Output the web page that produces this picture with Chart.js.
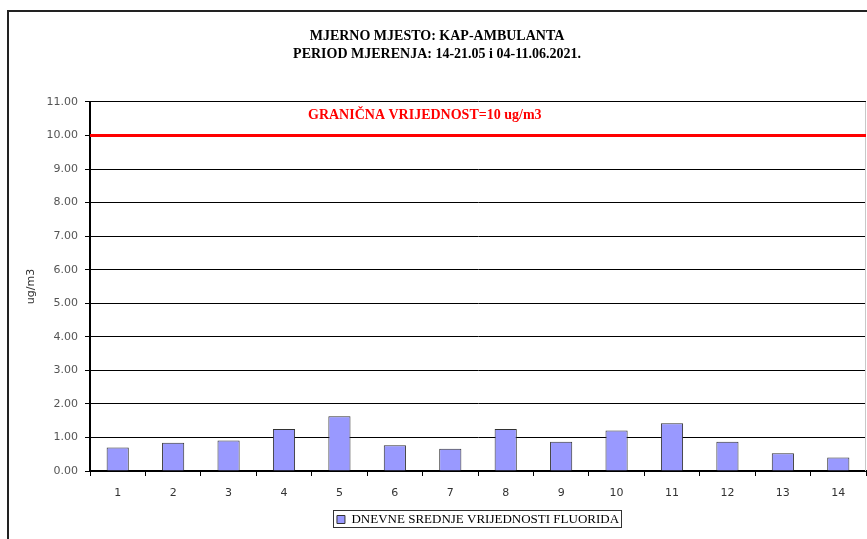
<!DOCTYPE html>
<html>
<head>
<meta charset="utf-8">
<script src="https://cdn.jsdelivr.net/npm/chart.js@4/dist/chart.umd.min.js"></script>
<style>
  html, body { margin: 0; padding: 0; background: #fff; }
  #wrap { width: 867px; height: 539px; }
</style>
</head>
<body>
<div id="wrap"><canvas id="chart" width="867" height="539"></canvas></div>
<script>
// Chart data
const days = ['1', '2', '3', '4', '5', '6', '7', '8', '9', '10', '11', '12', '13', '14'];
const fluorideValues = [0.70, 0.84, 0.91, 1.25, 1.63, 0.77, 0.66, 1.25, 0.87, 1.21, 1.42, 0.87, 0.53, 0.40];
const limitValue = 10;
const limitLabel = 'GRANIČNA VRIJEDNOST=10 ug/m3';
const titleLines = ['MJERNO MJESTO: KAP-AMBULANTA', 'PERIOD MJERENJA: 14-21.05 i 04-11.06.2021.'];
const seriesLabel = 'DNEVNE SREDNJE VRIJEDNOSTI FLUORIDA';
const yAxisTitle = 'ug/m3';

// Frame, limit line and legend box
const decorations = {
    id: 'decorations',
    beforeDraw(chart) {
        const ctx = chart.ctx;
        ctx.save();
        ctx.fillStyle = '#fff';
        ctx.fillRect(0, 0, chart.width, chart.height);
        ctx.strokeStyle = '#222';
        ctx.lineWidth = 2;
        ctx.beginPath();
        ctx.moveTo(8, chart.height);
        ctx.lineTo(8, 11);
        ctx.lineTo(chart.width, 11);
        ctx.stroke();
        ctx.restore();
    },
    afterDatasetsDraw(chart) {
        const ctx = chart.ctx;
        const area = chart.chartArea;
        const y = chart.scales.y.getPixelForValue(limitValue);
        ctx.save();
        ctx.strokeStyle = '#c8c8c8';
        ctx.lineWidth = 1;
        ctx.beginPath();
        ctx.moveTo(area.right - 0.5, area.top);
        ctx.lineTo(area.right - 0.5, area.bottom);
        ctx.stroke();
        ctx.strokeStyle = '#ff0000';
        ctx.lineWidth = 3;
        ctx.beginPath();
        ctx.moveTo(area.left, y);
        ctx.lineTo(area.right, y);
        ctx.stroke();
        ctx.fillStyle = '#ff0000';
        ctx.font = 'bold 14px "Liberation Serif"';
        ctx.textBaseline = 'middle';
        ctx.fillText(limitLabel, 308, y - 20);
        ctx.restore();
    },
    afterDraw(chart) {
        const boxes = chart.legend && chart.legend.legendHitBoxes;
        if (!boxes || !boxes.length) return;
        const b = boxes[0];
        const ctx = chart.ctx;
        ctx.save();
        ctx.strokeStyle = '#333';
        ctx.lineWidth = 1;
        ctx.strokeRect(Math.round(b.left) - 3.5, Math.round(b.top) - 2.5, Math.round(b.width) + 6, Math.round(b.height) + 4);
        ctx.restore();
    }
};

new Chart(document.getElementById('chart'), {
    type: 'bar',
    data: {
        labels: days,
        datasets: [{
            label: seriesLabel,
            data: fluorideValues,
            backgroundColor: '#9999ff',
            borderColor: '#333333',
            borderWidth: 1,
            categoryPercentage: 1.0,
            barPercentage: 0.4
        }]
    },
    options: {
        responsive: false,
        animation: false,
        layout: { padding: { left: 8, right: 1, top: 12, bottom: 3 } },
        plugins: {
            title: {
                display: true,
                text: titleLines,
                color: '#000',
                font: { family: '"Liberation Serif"', size: 14, weight: 'bold', lineHeight: 1.32 },
                padding: { top: 15, bottom: 38 }
            },
            legend: {
                position: 'bottom',
                fullSize: false,
                labels: {
                    color: '#000',
                    font: { family: '"Liberation Serif"', size: 13 },
                    boxWidth: 8,
                    boxHeight: 8,
                    padding: 6
                }
            },
            tooltip: { enabled: false }
        },
        scales: {
            x: {
                afterFit(scale) { scale.height = 36; },
                grid: {
                    offset: true,
                    drawOnChartArea: false,
                    drawTicks: true,
                    tickLength: 5,
                    color: '#000'
                },
                border: { display: true, color: '#000', width: 2 },
                ticks: {
                    color: '#333',
                    padding: 11,
                    font: { family: '"DejaVu Sans"', size: 11 }
                }
            },
            y: {
                min: 0,
                max: 11,
                afterFit(scale) { scale.width = 82; },
                grid: {
                    color: '#000',
                    lineWidth: 1,
                    tickLength: 5
                },
                border: { display: true, color: '#000', width: 2 },
                ticks: {
                    stepSize: 1,
                    color: '#555',
                    padding: 7,
                    font: { family: '"DejaVu Sans"', size: 11 },
                    callback: (v) => Number(v).toFixed(2)
                },
                title: {
                    display: true,
                    text: yAxisTitle,
                    color: '#333',
                    font: { family: '"DejaVu Sans"', size: 11 },
                    padding: { top: 17, bottom: 0 }
                }
            }
        }
    },
    plugins: [decorations]
});
</script>
</body>
</html>
